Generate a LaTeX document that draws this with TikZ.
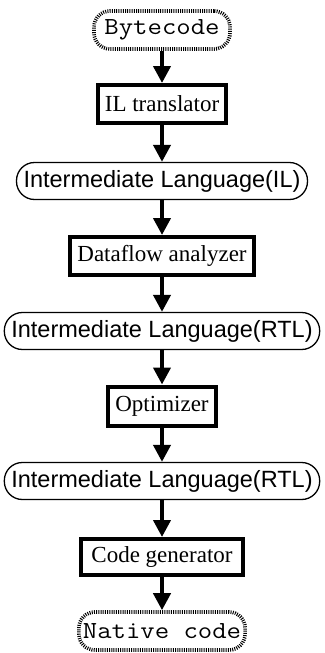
\documentclass[tikz,border=0pt]{standalone}
\usepackage{fontspec}
\setmainfont{Liberation Serif}
\setsansfont{Liberation Sans}
\setmonofont{Latin Modern Mono}[FakeStretch=1.14]
\usetikzlibrary{arrows.meta}
\tikzset{
  procbox/.style={draw, line width=4pt, rectangle, inner xsep=7pt, inner ysep=0pt,
    font=\rmfamily\fontsize{23}{26}\selectfont, align=center},
  databox/.style={draw, line width=1.3pt, rectangle, rounded corners=18pt, inner xsep=7pt, inner ysep=0pt,
    minimum height=37pt, font=\sffamily\fontsize{23.5}{27}\selectfont},
  termbox/.style={draw, line width=3.6pt, dash pattern=on 1pt off 1.2pt, rectangle, rounded corners=16pt,
    inner xsep=4pt, inner ysep=0pt, minimum height=38pt, font=\ttfamily\fontsize{24.5}{27}\selectfont},
  flow/.style={line width=4pt, -{Triangle[width=17pt,length=17pt]}}
}
\begin{document}
\begin{tikzpicture}[x=1pt,y=-1pt]
\useasboundingbox (0,0) rectangle (324,653);
\node[termbox, minimum width=136pt] (bc) at (162,30) {Bytecode};
\node[procbox, minimum height=38pt] (ilt) at (162,104) {IL translator};
\node[databox] (il) at (162,181) {Intermediate Language(IL)};
\node[procbox, minimum height=38pt] (df) at (162,256) {Dataflow analyzer};
\node[databox] (rtl1) at (162,331) {Intermediate Language(RTL)};
\node[procbox, minimum height=39pt] (opt) at (162,406) {Optimizer};
\node[databox] (rtl2) at (162,481) {Intermediate Language(RTL)};
\node[procbox, minimum height=36pt, minimum width=162pt] (cg) at (162,557) {Code generator};
\node[termbox, minimum width=165pt] (nc) at (162,631) {Native code};
\draw[flow] (bc) -- (ilt);
\draw[flow] (ilt) -- (il);
\draw[flow] (il) -- (df);
\draw[flow] (df) -- (rtl1);
\draw[flow] (rtl1) -- (opt);
\draw[flow] (opt) -- (rtl2);
\draw[flow] (rtl2) -- (cg);
\draw[flow] (cg) -- (nc);
\end{tikzpicture}
\end{document}
